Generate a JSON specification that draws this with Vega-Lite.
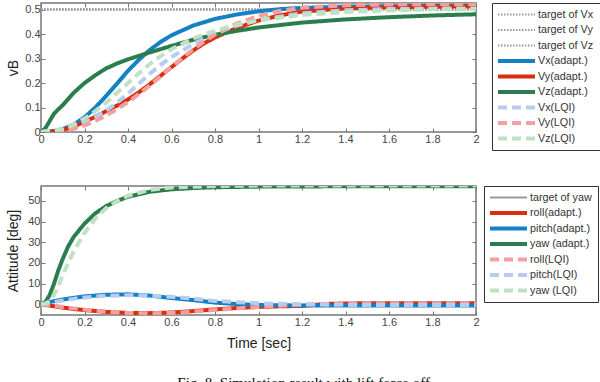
{
  "$schema": "https://vega.github.io/schema/vega-lite/v6.json",
  "padding": {"left": 5, "top": 1, "right": 0, "bottom": 0},
  "spacing": 32,
  "background": "white",
  "config": {
    "font": "Liberation Sans",
    "view": {"stroke": "#777", "strokeWidth": 1.5},
    "axis": {"grid": false, "domain": false, "tickSize": -4, "tickColor": "#777", "tickWidth": 1, "labelFont": "Liberation Sans", "labelFontSize": 11, "labelColor": "#444", "labelPadding": 5, "labelFlush": false, "titleFont": "Liberation Sans", "titleFontWeight": "normal", "titleFontSize": 14, "titleColor": "#222"},
    "legend": {"title": null, "columns": 1, "symbolType": "M0,0H37", "symbolSize": 4, "symbolOffset": -3, "labelOffset": 37, "padding": 6, "strokeColor": "#333", "rowPadding": 3.5, "clipHeight": 11, "labelFontSize": 10.8, "labelColor": "#333", "labelFont": "Liberation Sans", "labelLimit": 200}
  },
  "title": {"text": "Fig. 8.   Simulation result with lift force off", "orient": "bottom", "anchor": "middle", "font": "Liberation Serif", "fontSize": 15, "fontWeight": "normal", "color": "#111", "offset": 25},
  "datasets": {
    "velT": [
      {"s": "target of Vx", "t": 0, "v": 0.5}, {"s": "target of Vx", "t": 2, "v": 0.5},
      {"s": "target of Vy", "t": 0, "v": 0.5}, {"s": "target of Vy", "t": 2, "v": 0.5},
      {"s": "target of Vz", "t": 0, "v": 0.5}, {"s": "target of Vz", "t": 2, "v": 0.5}
    ],
    "vel": [
      {"s": "Vx(adapt.)", "t": 0, "v": 0}, {"s": "Vx(adapt.)", "t": 0.05, "v": 0.003}, {"s": "Vx(adapt.)", "t": 0.1, "v": 0.012}, {"s": "Vx(adapt.)", "t": 0.15, "v": 0.03}, {"s": "Vx(adapt.)", "t": 0.2, "v": 0.06}, {"s": "Vx(adapt.)", "t": 0.25, "v": 0.1}, {"s": "Vx(adapt.)", "t": 0.3, "v": 0.148}, {"s": "Vx(adapt.)", "t": 0.35, "v": 0.198}, {"s": "Vx(adapt.)", "t": 0.4, "v": 0.25}, {"s": "Vx(adapt.)", "t": 0.45, "v": 0.295}, {"s": "Vx(adapt.)", "t": 0.5, "v": 0.335}, {"s": "Vx(adapt.)", "t": 0.55, "v": 0.368}, {"s": "Vx(adapt.)", "t": 0.6, "v": 0.395}, {"s": "Vx(adapt.)", "t": 0.7, "v": 0.435}, {"s": "Vx(adapt.)", "t": 0.8, "v": 0.462}, {"s": "Vx(adapt.)", "t": 0.9, "v": 0.48}, {"s": "Vx(adapt.)", "t": 1.0, "v": 0.493}, {"s": "Vx(adapt.)", "t": 1.1, "v": 0.502}, {"s": "Vx(adapt.)", "t": 1.2, "v": 0.507}, {"s": "Vx(adapt.)", "t": 1.4, "v": 0.512}, {"s": "Vx(adapt.)", "t": 1.6, "v": 0.514}, {"s": "Vx(adapt.)", "t": 1.8, "v": 0.515}, {"s": "Vx(adapt.)", "t": 2.0, "v": 0.515},
      {"s": "Vy(adapt.)", "t": 0, "v": 0}, {"s": "Vy(adapt.)", "t": 0.05, "v": 0.001}, {"s": "Vy(adapt.)", "t": 0.1, "v": 0.008}, {"s": "Vy(adapt.)", "t": 0.15, "v": 0.022}, {"s": "Vy(adapt.)", "t": 0.2, "v": 0.042}, {"s": "Vy(adapt.)", "t": 0.25, "v": 0.062}, {"s": "Vy(adapt.)", "t": 0.3, "v": 0.085}, {"s": "Vy(adapt.)", "t": 0.35, "v": 0.108}, {"s": "Vy(adapt.)", "t": 0.4, "v": 0.133}, {"s": "Vy(adapt.)", "t": 0.45, "v": 0.162}, {"s": "Vy(adapt.)", "t": 0.5, "v": 0.195}, {"s": "Vy(adapt.)", "t": 0.55, "v": 0.23}, {"s": "Vy(adapt.)", "t": 0.6, "v": 0.265}, {"s": "Vy(adapt.)", "t": 0.65, "v": 0.3}, {"s": "Vy(adapt.)", "t": 0.7, "v": 0.333}, {"s": "Vy(adapt.)", "t": 0.75, "v": 0.362}, {"s": "Vy(adapt.)", "t": 0.8, "v": 0.386}, {"s": "Vy(adapt.)", "t": 0.9, "v": 0.425}, {"s": "Vy(adapt.)", "t": 1.0, "v": 0.455}, {"s": "Vy(adapt.)", "t": 1.1, "v": 0.477}, {"s": "Vy(adapt.)", "t": 1.2, "v": 0.492}, {"s": "Vy(adapt.)", "t": 1.4, "v": 0.505}, {"s": "Vy(adapt.)", "t": 1.6, "v": 0.51}, {"s": "Vy(adapt.)", "t": 1.8, "v": 0.512}, {"s": "Vy(adapt.)", "t": 2.0, "v": 0.513},
      {"s": "Vz(adapt.)", "t": 0, "v": 0}, {"s": "Vz(adapt.)", "t": 0.02, "v": 0.015}, {"s": "Vz(adapt.)", "t": 0.04, "v": 0.045}, {"s": "Vz(adapt.)", "t": 0.06, "v": 0.075}, {"s": "Vz(adapt.)", "t": 0.08, "v": 0.093}, {"s": "Vz(adapt.)", "t": 0.1, "v": 0.11}, {"s": "Vz(adapt.)", "t": 0.15, "v": 0.16}, {"s": "Vz(adapt.)", "t": 0.2, "v": 0.2}, {"s": "Vz(adapt.)", "t": 0.25, "v": 0.232}, {"s": "Vz(adapt.)", "t": 0.3, "v": 0.26}, {"s": "Vz(adapt.)", "t": 0.35, "v": 0.28}, {"s": "Vz(adapt.)", "t": 0.4, "v": 0.297}, {"s": "Vz(adapt.)", "t": 0.5, "v": 0.325}, {"s": "Vz(adapt.)", "t": 0.6, "v": 0.352}, {"s": "Vz(adapt.)", "t": 0.7, "v": 0.377}, {"s": "Vz(adapt.)", "t": 0.8, "v": 0.397}, {"s": "Vz(adapt.)", "t": 0.9, "v": 0.413}, {"s": "Vz(adapt.)", "t": 1.0, "v": 0.427}, {"s": "Vz(adapt.)", "t": 1.2, "v": 0.447}, {"s": "Vz(adapt.)", "t": 1.4, "v": 0.46}, {"s": "Vz(adapt.)", "t": 1.6, "v": 0.469}, {"s": "Vz(adapt.)", "t": 1.8, "v": 0.476}, {"s": "Vz(adapt.)", "t": 2.0, "v": 0.481},
      {"s": "Vx(LQI)", "t": 0, "v": 0}, {"s": "Vx(LQI)", "t": 0.1, "v": 0.008}, {"s": "Vx(LQI)", "t": 0.15, "v": 0.02}, {"s": "Vx(LQI)", "t": 0.2, "v": 0.038}, {"s": "Vx(LQI)", "t": 0.25, "v": 0.06}, {"s": "Vx(LQI)", "t": 0.3, "v": 0.088}, {"s": "Vx(LQI)", "t": 0.35, "v": 0.12}, {"s": "Vx(LQI)", "t": 0.4, "v": 0.157}, {"s": "Vx(LQI)", "t": 0.45, "v": 0.197}, {"s": "Vx(LQI)", "t": 0.5, "v": 0.238}, {"s": "Vx(LQI)", "t": 0.55, "v": 0.274}, {"s": "Vx(LQI)", "t": 0.6, "v": 0.306}, {"s": "Vx(LQI)", "t": 0.7, "v": 0.36}, {"s": "Vx(LQI)", "t": 0.8, "v": 0.403}, {"s": "Vx(LQI)", "t": 0.9, "v": 0.435}, {"s": "Vx(LQI)", "t": 1.0, "v": 0.458}, {"s": "Vx(LQI)", "t": 1.2, "v": 0.485}, {"s": "Vx(LQI)", "t": 1.4, "v": 0.497}, {"s": "Vx(LQI)", "t": 1.6, "v": 0.502}, {"s": "Vx(LQI)", "t": 1.8, "v": 0.504}, {"s": "Vx(LQI)", "t": 2.0, "v": 0.505},
      {"s": "Vy(LQI)", "t": 0, "v": 0}, {"s": "Vy(LQI)", "t": 0.1, "v": 0.004}, {"s": "Vy(LQI)", "t": 0.15, "v": 0.013}, {"s": "Vy(LQI)", "t": 0.2, "v": 0.027}, {"s": "Vy(LQI)", "t": 0.25, "v": 0.045}, {"s": "Vy(LQI)", "t": 0.3, "v": 0.068}, {"s": "Vy(LQI)", "t": 0.35, "v": 0.093}, {"s": "Vy(LQI)", "t": 0.4, "v": 0.122}, {"s": "Vy(LQI)", "t": 0.45, "v": 0.155}, {"s": "Vy(LQI)", "t": 0.5, "v": 0.19}, {"s": "Vy(LQI)", "t": 0.55, "v": 0.227}, {"s": "Vy(LQI)", "t": 0.6, "v": 0.265}, {"s": "Vy(LQI)", "t": 0.65, "v": 0.303}, {"s": "Vy(LQI)", "t": 0.7, "v": 0.338}, {"s": "Vy(LQI)", "t": 0.75, "v": 0.37}, {"s": "Vy(LQI)", "t": 0.8, "v": 0.398}, {"s": "Vy(LQI)", "t": 0.9, "v": 0.443}, {"s": "Vy(LQI)", "t": 1.0, "v": 0.474}, {"s": "Vy(LQI)", "t": 1.1, "v": 0.495}, {"s": "Vy(LQI)", "t": 1.2, "v": 0.508}, {"s": "Vy(LQI)", "t": 1.4, "v": 0.518}, {"s": "Vy(LQI)", "t": 1.6, "v": 0.521}, {"s": "Vy(LQI)", "t": 1.8, "v": 0.522}, {"s": "Vy(LQI)", "t": 2.0, "v": 0.522},
      {"s": "Vz(LQI)", "t": 0, "v": 0}, {"s": "Vz(LQI)", "t": 0.1, "v": 0.012}, {"s": "Vz(LQI)", "t": 0.15, "v": 0.03}, {"s": "Vz(LQI)", "t": 0.2, "v": 0.055}, {"s": "Vz(LQI)", "t": 0.25, "v": 0.085}, {"s": "Vz(LQI)", "t": 0.3, "v": 0.12}, {"s": "Vz(LQI)", "t": 0.35, "v": 0.16}, {"s": "Vz(LQI)", "t": 0.4, "v": 0.2}, {"s": "Vz(LQI)", "t": 0.45, "v": 0.24}, {"s": "Vz(LQI)", "t": 0.5, "v": 0.278}, {"s": "Vz(LQI)", "t": 0.55, "v": 0.31}, {"s": "Vz(LQI)", "t": 0.6, "v": 0.338}, {"s": "Vz(LQI)", "t": 0.7, "v": 0.382}, {"s": "Vz(LQI)", "t": 0.8, "v": 0.414}, {"s": "Vz(LQI)", "t": 0.9, "v": 0.438}, {"s": "Vz(LQI)", "t": 1.0, "v": 0.456}, {"s": "Vz(LQI)", "t": 1.2, "v": 0.478}, {"s": "Vz(LQI)", "t": 1.4, "v": 0.49}, {"s": "Vz(LQI)", "t": 1.6, "v": 0.497}, {"s": "Vz(LQI)", "t": 1.8, "v": 0.501}, {"s": "Vz(LQI)", "t": 2.0, "v": 0.503}
    ],
    "attT": [
      {"s": "target of yaw", "t": 0, "v": 57.3}, {"s": "target of yaw", "t": 2, "v": 57.3}
    ],
    "att": [
      {"s": "roll(adapt.)", "t": 0, "v": 0}, {"s": "roll(adapt.)", "t": 0.05, "v": -0.8}, {"s": "roll(adapt.)", "t": 0.1, "v": -1.6}, {"s": "roll(adapt.)", "t": 0.15, "v": -2.3}, {"s": "roll(adapt.)", "t": 0.2, "v": -2.8}, {"s": "roll(adapt.)", "t": 0.3, "v": -3.7}, {"s": "roll(adapt.)", "t": 0.4, "v": -4.2}, {"s": "roll(adapt.)", "t": 0.5, "v": -4.3}, {"s": "roll(adapt.)", "t": 0.6, "v": -4.0}, {"s": "roll(adapt.)", "t": 0.7, "v": -3.3}, {"s": "roll(adapt.)", "t": 0.8, "v": -2.5}, {"s": "roll(adapt.)", "t": 0.9, "v": -1.8}, {"s": "roll(adapt.)", "t": 1.0, "v": -1.3}, {"s": "roll(adapt.)", "t": 1.1, "v": -1.0}, {"s": "roll(adapt.)", "t": 1.2, "v": -0.8}, {"s": "roll(adapt.)", "t": 1.25, "v": -0.4}, {"s": "roll(adapt.)", "t": 1.3, "v": 0.1}, {"s": "roll(adapt.)", "t": 1.4, "v": 0.4}, {"s": "roll(adapt.)", "t": 1.6, "v": 0.5}, {"s": "roll(adapt.)", "t": 2.0, "v": 0.5},
      {"s": "pitch(adapt.)", "t": 0, "v": 0}, {"s": "pitch(adapt.)", "t": 0.05, "v": 1.3}, {"s": "pitch(adapt.)", "t": 0.1, "v": 2.3}, {"s": "pitch(adapt.)", "t": 0.15, "v": 3.1}, {"s": "pitch(adapt.)", "t": 0.2, "v": 3.8}, {"s": "pitch(adapt.)", "t": 0.3, "v": 4.6}, {"s": "pitch(adapt.)", "t": 0.4, "v": 4.8}, {"s": "pitch(adapt.)", "t": 0.5, "v": 4.2}, {"s": "pitch(adapt.)", "t": 0.6, "v": 3.0}, {"s": "pitch(adapt.)", "t": 0.7, "v": 2.0}, {"s": "pitch(adapt.)", "t": 0.8, "v": 0.8}, {"s": "pitch(adapt.)", "t": 0.9, "v": 0.1}, {"s": "pitch(adapt.)", "t": 1.0, "v": -0.4}, {"s": "pitch(adapt.)", "t": 1.1, "v": -0.5}, {"s": "pitch(adapt.)", "t": 1.2, "v": -0.6}, {"s": "pitch(adapt.)", "t": 1.4, "v": -0.6}, {"s": "pitch(adapt.)", "t": 2.0, "v": -0.6},
      {"s": "yaw (adapt.)", "t": 0, "v": 0}, {"s": "yaw (adapt.)", "t": 0.02, "v": 1}, {"s": "yaw (adapt.)", "t": 0.04, "v": 4.5}, {"s": "yaw (adapt.)", "t": 0.06, "v": 10}, {"s": "yaw (adapt.)", "t": 0.08, "v": 16.5}, {"s": "yaw (adapt.)", "t": 0.1, "v": 22}, {"s": "yaw (adapt.)", "t": 0.125, "v": 28}, {"s": "yaw (adapt.)", "t": 0.15, "v": 32.5}, {"s": "yaw (adapt.)", "t": 0.2, "v": 39}, {"s": "yaw (adapt.)", "t": 0.25, "v": 44}, {"s": "yaw (adapt.)", "t": 0.3, "v": 47.5}, {"s": "yaw (adapt.)", "t": 0.35, "v": 50}, {"s": "yaw (adapt.)", "t": 0.4, "v": 52}, {"s": "yaw (adapt.)", "t": 0.5, "v": 54.4}, {"s": "yaw (adapt.)", "t": 0.6, "v": 55.6}, {"s": "yaw (adapt.)", "t": 0.7, "v": 56.2}, {"s": "yaw (adapt.)", "t": 0.8, "v": 56.6}, {"s": "yaw (adapt.)", "t": 1.0, "v": 56.9}, {"s": "yaw (adapt.)", "t": 1.5, "v": 57.1}, {"s": "yaw (adapt.)", "t": 2.0, "v": 57.1},
      {"s": "roll(LQI)", "t": 0, "v": 0}, {"s": "roll(LQI)", "t": 0.05, "v": -0.6}, {"s": "roll(LQI)", "t": 0.1, "v": -1.3}, {"s": "roll(LQI)", "t": 0.15, "v": -2.0}, {"s": "roll(LQI)", "t": 0.2, "v": -2.6}, {"s": "roll(LQI)", "t": 0.3, "v": -3.6}, {"s": "roll(LQI)", "t": 0.4, "v": -4.2}, {"s": "roll(LQI)", "t": 0.5, "v": -4.4}, {"s": "roll(LQI)", "t": 0.6, "v": -4.2}, {"s": "roll(LQI)", "t": 0.7, "v": -3.6}, {"s": "roll(LQI)", "t": 0.8, "v": -2.8}, {"s": "roll(LQI)", "t": 0.9, "v": -2.0}, {"s": "roll(LQI)", "t": 1.0, "v": -1.3}, {"s": "roll(LQI)", "t": 1.1, "v": -0.7}, {"s": "roll(LQI)", "t": 1.2, "v": -0.2}, {"s": "roll(LQI)", "t": 1.3, "v": 0.2}, {"s": "roll(LQI)", "t": 1.4, "v": 0.4}, {"s": "roll(LQI)", "t": 1.6, "v": 0.5}, {"s": "roll(LQI)", "t": 2.0, "v": 0.5},
      {"s": "pitch(LQI)", "t": 0, "v": 0}, {"s": "pitch(LQI)", "t": 0.05, "v": 0.9}, {"s": "pitch(LQI)", "t": 0.1, "v": 1.8}, {"s": "pitch(LQI)", "t": 0.15, "v": 2.6}, {"s": "pitch(LQI)", "t": 0.2, "v": 3.3}, {"s": "pitch(LQI)", "t": 0.3, "v": 4.1}, {"s": "pitch(LQI)", "t": 0.4, "v": 4.4}, {"s": "pitch(LQI)", "t": 0.5, "v": 4.2}, {"s": "pitch(LQI)", "t": 0.6, "v": 3.6}, {"s": "pitch(LQI)", "t": 0.7, "v": 2.7}, {"s": "pitch(LQI)", "t": 0.8, "v": 1.6}, {"s": "pitch(LQI)", "t": 0.9, "v": 1.0}, {"s": "pitch(LQI)", "t": 1.0, "v": 0.5}, {"s": "pitch(LQI)", "t": 1.1, "v": 0.2}, {"s": "pitch(LQI)", "t": 1.2, "v": 0.0}, {"s": "pitch(LQI)", "t": 1.4, "v": -0.3}, {"s": "pitch(LQI)", "t": 1.6, "v": -0.4}, {"s": "pitch(LQI)", "t": 2.0, "v": -0.4},
      {"s": "yaw (LQI)", "t": 0, "v": 0}, {"s": "yaw (LQI)", "t": 0.02, "v": 0.3}, {"s": "yaw (LQI)", "t": 0.04, "v": 1.5}, {"s": "yaw (LQI)", "t": 0.06, "v": 4.5}, {"s": "yaw (LQI)", "t": 0.08, "v": 9}, {"s": "yaw (LQI)", "t": 0.1, "v": 14}, {"s": "yaw (LQI)", "t": 0.125, "v": 20}, {"s": "yaw (LQI)", "t": 0.15, "v": 25.5}, {"s": "yaw (LQI)", "t": 0.2, "v": 34.5}, {"s": "yaw (LQI)", "t": 0.25, "v": 41.5}, {"s": "yaw (LQI)", "t": 0.3, "v": 46.5}, {"s": "yaw (LQI)", "t": 0.35, "v": 50}, {"s": "yaw (LQI)", "t": 0.4, "v": 52.5}, {"s": "yaw (LQI)", "t": 0.5, "v": 55.3}, {"s": "yaw (LQI)", "t": 0.6, "v": 56.5}, {"s": "yaw (LQI)", "t": 0.8, "v": 57.2}, {"s": "yaw (LQI)", "t": 1.0, "v": 57.4}, {"s": "yaw (LQI)", "t": 2.0, "v": 57.5}
    ]
  },
  "vconcat": [
    {
      "width": 435,
      "height": 129,
      "layer": [
        {
          "data": {"name": "velT"},
          "mark": {"type": "line", "clip": true},
          "encoding": {
            "x": {"field": "t", "type": "quantitative", "scale": {"domain": [0, 2], "nice": false}, "axis": {"orient": "top", "labels": false, "title": null, "values": [0, 0.2, 0.4, 0.6, 0.8, 1, 1.2, 1.4, 1.6, 1.8, 2]}},
            "y": {"field": "v", "type": "quantitative", "scale": {"domain": [0, 0.527], "nice": false}, "axis": {"orient": "right", "labels": false, "title": null, "values": [0, 0.1, 0.2, 0.3, 0.4, 0.5]}},
            "color": {"field": "s", "type": "nominal", "scale": {"domain": ["target of Vx", "target of Vy", "target of Vz", "Vx(adapt.)", "Vy(adapt.)", "Vz(adapt.)", "Vx(LQI)", "Vy(LQI)", "Vz(LQI)"], "range": ["#9a9a9a", "#9a9a9a", "#9a9a9a", "#1480c6", "#d8300f", "#2b7d4e", "#b6cdef", "#f5a0a0", "#c0e2c4"]}, "legend": {"offset": 15, "encode": {"symbols": {"update": {"x": {"value": 0}}}, "labels": {"update": {"x": {"value": 40}}}}}},
            "strokeDash": {"field": "s", "type": "nominal", "scale": {"domain": ["target of Vx", "target of Vy", "target of Vz", "Vx(adapt.)", "Vy(adapt.)", "Vz(adapt.)", "Vx(LQI)", "Vy(LQI)", "Vz(LQI)"], "range": [[1.5, 1.5], [1.5, 1.5], [1.5, 1.5], [1, 0], [1, 0], [1, 0], [9, 5], [9, 5], [9, 5]]}, "legend": {"offset": 15, "encode": {"symbols": {"update": {"x": {"value": 0}}}, "labels": {"update": {"x": {"value": 40}}}}}},
            "strokeWidth": {"field": "s", "type": "ordinal", "scale": {"type": "ordinal", "domain": ["target of Vx", "target of Vy", "target of Vz", "Vx(adapt.)", "Vy(adapt.)", "Vz(adapt.)", "Vx(LQI)", "Vy(LQI)", "Vz(LQI)"], "range": [2, 2, 2, 4, 4, 4, 4, 4, 4]}, "legend": {"offset": 15, "encode": {"symbols": {"update": {"x": {"value": 0}}}, "labels": {"update": {"x": {"value": 40}}}}}}
          }
        },
        {
          "data": {"name": "vel"},
          "mark": {"type": "line", "clip": true},
          "encoding": {
            "x": {"field": "t", "type": "quantitative", "scale": {"domain": [0, 2], "nice": false}, "axis": {"orient": "bottom", "title": null, "format": ".2~f", "values": [0, 0.2, 0.4, 0.6, 0.8, 1, 1.2, 1.4, 1.6, 1.8, 2]}},
            "y": {"field": "v", "type": "quantitative", "scale": {"domain": [0, 0.527], "nice": false}, "axis": {"orient": "left", "title": "vB", "format": ".2~f", "titlePadding": 4, "values": [0, 0.1, 0.2, 0.3, 0.4, 0.5]}},
            "color": {"field": "s", "type": "nominal", "scale": {"domain": ["target of Vx", "target of Vy", "target of Vz", "Vx(adapt.)", "Vy(adapt.)", "Vz(adapt.)", "Vx(LQI)", "Vy(LQI)", "Vz(LQI)"], "range": ["#9a9a9a", "#9a9a9a", "#9a9a9a", "#1480c6", "#d8300f", "#2b7d4e", "#b6cdef", "#f5a0a0", "#c0e2c4"]}, "legend": {"offset": 15, "encode": {"symbols": {"update": {"x": {"value": 0}}}, "labels": {"update": {"x": {"value": 40}}}}}},
            "strokeDash": {"field": "s", "type": "nominal", "scale": {"domain": ["target of Vx", "target of Vy", "target of Vz", "Vx(adapt.)", "Vy(adapt.)", "Vz(adapt.)", "Vx(LQI)", "Vy(LQI)", "Vz(LQI)"], "range": [[1.5, 1.5], [1.5, 1.5], [1.5, 1.5], [1, 0], [1, 0], [1, 0], [9, 5], [9, 5], [9, 5]]}, "legend": {"offset": 15, "encode": {"symbols": {"update": {"x": {"value": 0}}}, "labels": {"update": {"x": {"value": 40}}}}}},
            "strokeWidth": {"field": "s", "type": "ordinal", "scale": {"type": "ordinal", "domain": ["target of Vx", "target of Vy", "target of Vz", "Vx(adapt.)", "Vy(adapt.)", "Vz(adapt.)", "Vx(LQI)", "Vy(LQI)", "Vz(LQI)"], "range": [2, 2, 2, 4, 4, 4, 4, 4, 4]}, "legend": {"offset": 15, "encode": {"symbols": {"update": {"x": {"value": 0}}}, "labels": {"update": {"x": {"value": 40}}}}}}
          }
        }
      ],
      "resolve": {"axis": {"x": "independent", "y": "independent"}}
    },
    {
      "width": 435,
      "height": 129,
      "layer": [
        {
          "data": {"name": "attT"},
          "mark": {"type": "line", "clip": true},
          "encoding": {
            "x": {"field": "t", "type": "quantitative", "scale": {"domain": [0, 2], "nice": false}, "axis": {"orient": "top", "labels": false, "title": null, "values": [0, 0.2, 0.4, 0.6, 0.8, 1, 1.2, 1.4, 1.6, 1.8, 2]}},
            "y": {"field": "v", "type": "quantitative", "scale": {"domain": [-5.2, 57.2], "nice": false}, "axis": {"orient": "right", "labels": false, "title": null, "values": [0, 10, 20, 30, 40, 50]}},
            "color": {"field": "s", "type": "nominal", "scale": {"domain": ["target of yaw", "roll(adapt.)", "pitch(adapt.)", "yaw (adapt.)", "roll(LQI)", "pitch(LQI)", "yaw (LQI)"], "range": ["#9a9a9a", "#d8300f", "#1480c6", "#2b7d4e", "#f5a0a0", "#b6cdef", "#c0e2c4"]}, "legend": {"offset": 7, "encode": {"symbols": {"update": {"x": {"value": 0}}}, "labels": {"update": {"x": {"value": 40}}}}}},
            "strokeDash": {"field": "s", "type": "nominal", "scale": {"domain": ["target of yaw", "roll(adapt.)", "pitch(adapt.)", "yaw (adapt.)", "roll(LQI)", "pitch(LQI)", "yaw (LQI)"], "range": [[1, 0], [1, 0], [1, 0], [1, 0], [9, 5], [9, 5], [9, 5]]}, "legend": {"offset": 7, "encode": {"symbols": {"update": {"x": {"value": 0}}}, "labels": {"update": {"x": {"value": 40}}}}}},
            "strokeWidth": {"field": "s", "type": "ordinal", "scale": {"type": "ordinal", "domain": ["target of yaw", "roll(adapt.)", "pitch(adapt.)", "yaw (adapt.)", "roll(LQI)", "pitch(LQI)", "yaw (LQI)"], "range": [2, 4, 4, 4, 4, 4, 4]}, "legend": {"offset": 7, "encode": {"symbols": {"update": {"x": {"value": 0}}}, "labels": {"update": {"x": {"value": 40}}}}}}
          }
        },
        {
          "data": {"name": "att"},
          "mark": {"type": "line", "clip": true},
          "encoding": {
            "x": {"field": "t", "type": "quantitative", "scale": {"domain": [0, 2], "nice": false}, "axis": {"orient": "bottom", "title": "Time [sec]", "format": ".2~f", "titlePadding": 9, "values": [0, 0.2, 0.4, 0.6, 0.8, 1, 1.2, 1.4, 1.6, 1.8, 2]}},
            "y": {"field": "v", "type": "quantitative", "scale": {"domain": [-5.2, 57.2], "nice": false}, "axis": {"orient": "left", "title": "Attitude [deg]", "format": ".2~f", "titlePadding": 7, "values": [0, 10, 20, 30, 40, 50]}},
            "color": {"field": "s", "type": "nominal", "scale": {"domain": ["target of yaw", "roll(adapt.)", "pitch(adapt.)", "yaw (adapt.)", "roll(LQI)", "pitch(LQI)", "yaw (LQI)"], "range": ["#9a9a9a", "#d8300f", "#1480c6", "#2b7d4e", "#f5a0a0", "#b6cdef", "#c0e2c4"]}, "legend": {"offset": 7, "encode": {"symbols": {"update": {"x": {"value": 0}}}, "labels": {"update": {"x": {"value": 40}}}}}},
            "strokeDash": {"field": "s", "type": "nominal", "scale": {"domain": ["target of yaw", "roll(adapt.)", "pitch(adapt.)", "yaw (adapt.)", "roll(LQI)", "pitch(LQI)", "yaw (LQI)"], "range": [[1, 0], [1, 0], [1, 0], [1, 0], [9, 5], [9, 5], [9, 5]]}, "legend": {"offset": 7, "encode": {"symbols": {"update": {"x": {"value": 0}}}, "labels": {"update": {"x": {"value": 40}}}}}},
            "strokeWidth": {"field": "s", "type": "ordinal", "scale": {"type": "ordinal", "domain": ["target of yaw", "roll(adapt.)", "pitch(adapt.)", "yaw (adapt.)", "roll(LQI)", "pitch(LQI)", "yaw (LQI)"], "range": [2, 4, 4, 4, 4, 4, 4]}, "legend": {"offset": 7, "encode": {"symbols": {"update": {"x": {"value": 0}}}, "labels": {"update": {"x": {"value": 40}}}}}}
          }
        }
      ],
      "resolve": {"axis": {"x": "independent", "y": "independent"}}
    }
  ],
  "resolve": {"scale": {"color": "independent", "strokeDash": "independent", "strokeWidth": "independent"}, "legend": {"color": "independent", "strokeDash": "independent", "strokeWidth": "independent"}}
}
